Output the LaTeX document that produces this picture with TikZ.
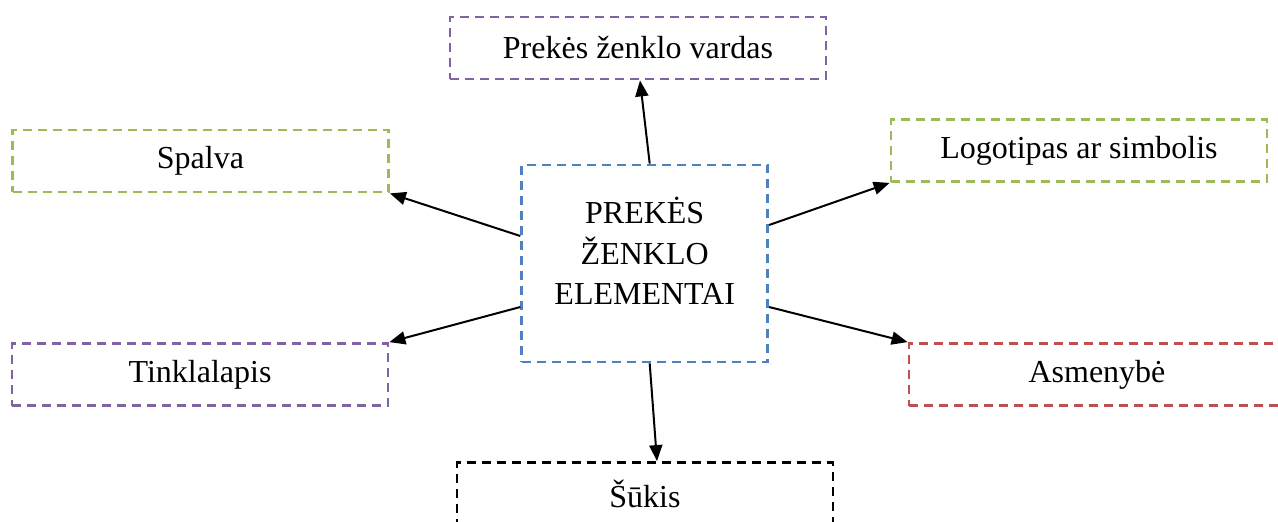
\documentclass[tikz,border=0pt]{standalone}
\usepackage{fontspec}
\setmainfont{Liberation Serif}
\usetikzlibrary{arrows.meta}
\definecolor{boxpurple}{HTML}{8064A2}
\definecolor{boxgreen}{HTML}{9BBB59}
\definecolor{boxblue}{HTML}{4F81BD}
\definecolor{boxred}{HTML}{C0504D}
\tikzset{
  element/.style={draw=#1, line width=2.8pt, dash pattern=on 9pt off 6pt,
    rectangle, inner sep=0pt, minimum width=376pt, minimum height=62pt,
    font=\fontsize{32}{40}\selectfont},
  core/.style={draw=boxblue, line width=2.8pt, dash pattern=on 9pt off 6pt,
    rectangle, inner sep=0pt, minimum width=246pt, minimum height=197pt},
  link/.style={line width=2pt, -{Triangle[length=16pt,width=13pt]}}
}
\begin{document}
\begin{tikzpicture}[x=1pt, y=-1pt]
  \useasboundingbox (0,0) rectangle (1278,522);
  \clip (0,0) rectangle (1278,522);

  % central box and its three-line title
  \node[core] (c) at (644.7,263.5) {};
  \node[align=center, inner sep=0pt, font=\fontsize{32}{40.5}\selectfont]
    (ct) at (644.7,251) {PREKĖS\\ŽENKLO\\ELEMENTAI};

  % surrounding elements
  \node[element=boxpurple] (name) at (638,48)    {Prekės ženklo vardas};
  \node[element=boxgreen]  (col)  at (200.5,161) {Spalva};
  \node[element=boxgreen]  (logo) at (1079,150.5){Logotipas ar simbolis};
  \node[element=boxpurple] (web)  at (200,374.5) {Tinklalapis};
  \node[element=boxred]    (pers) at (1097,374.5){Asmenybė};
  \node[element=black]     (slog) at (645,493.5) {Šūkis};

  % connectors from the centre outwards
  \draw[link] ([xshift=5pt]c.north)    -- ([xshift=2pt]name.south);
  \draw[link] ([yshift=27.5pt]c.west)  -- (col.south east);
  \draw[link] ([yshift=38.5pt]c.east)  -- (logo.south west);
  \draw[link] ([yshift=-43.5pt]c.west) -- (web.north east);
  \draw[link] ([yshift=-43.5pt]c.east) -- (pers.north west);
  \draw[link] ([xshift=5pt]c.south)    -- ([xshift=12pt]slog.north);
\end{tikzpicture}
\end{document}
